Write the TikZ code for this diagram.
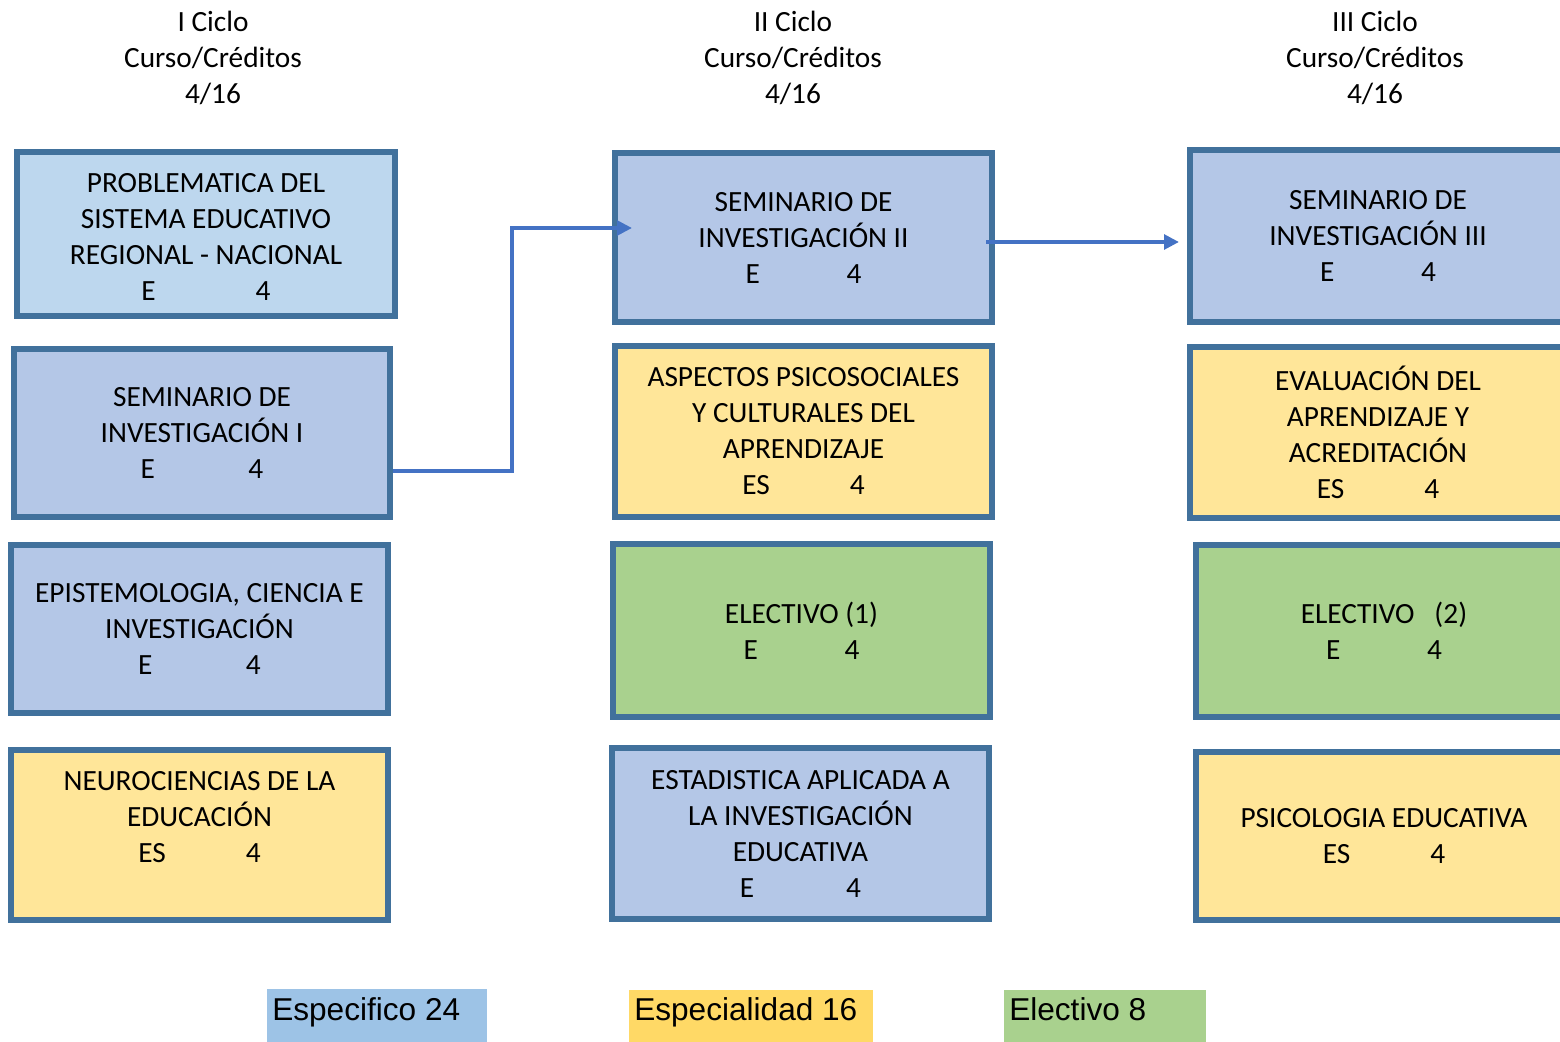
\documentclass[tikz,border=0pt]{standalone}
\usepackage{fontspec}
\setmainfont{Carlito}
\newfontfamily\legfont{Liberation Sans}
\usetikzlibrary{arrows.meta}
\definecolor{bord}{HTML}{41719C}
\definecolor{fillA}{HTML}{BDD7EE}
\definecolor{fillB}{HTML}{B4C7E7}
\definecolor{fillY}{HTML}{FFE699}
\definecolor{fillG}{HTML}{A9D18E}
\definecolor{arr}{HTML}{4472C4}
\definecolor{legB}{HTML}{9DC3E6}
\definecolor{legY}{HTML}{FFD966}
\definecolor{legG}{HTML}{A9D18E}
\newcommand\crE[1]{E\hspace{#1pt}4}
\newcommand\crES[1]{ES\hspace{#1pt}4}
\begin{document}
\begin{tikzpicture}[x=0.75pt,y=-0.75pt,
  box/.style={draw=bord, line width=4.5pt, align=center, inner sep=0pt,
    font=\fontsize{22}{27}\selectfont},
  hdr/.style={align=center, inner sep=0pt, font=\fontsize{22}{27}\selectfont},
  conn/.style={draw=arr, line width=3pt, -{Triangle[length=11.25pt,width=11pt]}},
  legbox/.style={inner sep=0pt, anchor=north west},
  legtext/.style={inner sep=0pt, anchor=base west, font=\legfont\fontsize{23.7}{28}\selectfont}]
\useasboundingbox (0,0) rectangle (1560,1042);
\clip (0,0) rectangle (1560,1042);

% headers
\node[hdr] (h1) at (213,58) {I Ciclo\\Curso/Créditos\\4/16};
\node[hdr] (h2) at (793,58) {II Ciclo\\Curso/Créditos\\4/16};
\node[hdr] (h3) at (1375,58) {III Ciclo\\Curso/Créditos\\4/16};

% column 1
\node[box, fill=fillA, minimum width=378*0.75pt, minimum height=164*0.75pt] (A) at (206,234)
  {\mbox{}\\[-8.5pt]PROBLEMATICA DEL\\SISTEMA EDUCATIVO\\REGIONAL - NACIONAL\\\crE{75}};
\node[box, fill=fillB, minimum width=376*0.75pt, minimum height=168*0.75pt] (B) at (202,433)
  {SEMINARIO DE\\INVESTIGACIÓN I\\\crE{70}};
\node[box, fill=fillB, minimum width=377*0.75pt, minimum height=168*0.75pt] (C) at (199.5,629)
  {EPISTEMOLOGIA, CIENCIA E\\INVESTIGACIÓN\\\crE{70}};
\node[box, fill=fillY, minimum width=377*0.75pt, minimum height=170*0.75pt] (D) at (199.5,835)
  {NEUROCIENCIAS DE LA\\EDUCACIÓN\\\crES{60}\\\mbox{}};

% column 2
\node[box, fill=fillB, minimum width=377*0.75pt, minimum height=169*0.75pt] (E) at (803.5,237.5)
  {SEMINARIO DE\\INVESTIGACIÓN II\\\crE{65}};
\node[box, fill=fillY, minimum width=377*0.75pt, minimum height=171*0.75pt] (F) at (803.5,431.5)
  {ASPECTOS PSICOSOCIALES\\Y CULTURALES DEL\\APRENDIZAJE\\\crES{60}};
\node[box, fill=fillG, minimum width=377*0.75pt, minimum height=173*0.75pt] (G) at (801.5,630.5)
  {ELECTIVO (1)\\\crE{65}};
\node[box, fill=fillB, minimum width=377*0.75pt, minimum height=171*0.75pt] (H) at (800.5,833.5)
  {ESTADISTICA APLICADA A\\LA INVESTIGACIÓN\\EDUCATIVA\\\crE{69}};

% column 3
\node[box, fill=fillB, minimum width=376*0.75pt, minimum height=172*0.75pt] (I) at (1378,236)
  {SEMINARIO DE\\INVESTIGACIÓN III\\\crE{65}};
\node[box, fill=fillY, minimum width=376*0.75pt, minimum height=171*0.75pt] (J) at (1378,432.5)
  {EVALUACIÓN DEL\\APRENDIZAJE Y\\ACREDITACIÓN\\\crES{60}};
\node[box, fill=fillG, minimum width=376*0.75pt, minimum height=172*0.75pt] (K) at (1384,631)
  {ELECTIVO\hspace{15pt}(2)\\\crE{65}};
\node[box, fill=fillY, minimum width=376*0.75pt, minimum height=168*0.75pt] (L) at (1384,836)
  {PSICOLOGIA EDUCATIVA\hspace{6pt}\\\crES{60}\hspace{6pt}};

% connectors
\coordinate (b1) at ([yshift=-28.5pt]B.east);
\coordinate (k1) at (512,228);
\coordinate (e1) at ([xshift=15pt,yshift=7.125pt]E.west);
\draw[conn] (b1) -| (k1) -- (e1);
\coordinate (e2) at ([xshift=-6.75pt,yshift=-3.375pt]E.east);
\coordinate (i1) at ([xshift=-6pt,yshift=-4.5pt]I.west);
\draw[conn] (e2) -- (i1);

% legend
\node[legbox, fill=legB, minimum width=220*0.75pt, minimum height=53*0.75pt] (l1) at (267,989) {};
\node[legtext] (t1) at (272,1020) {Especifico 24};
\node[legbox, fill=legY, minimum width=244*0.75pt, minimum height=52*0.75pt] (l2) at (629,990) {};
\node[legtext] (t2) at (634,1020) {Especialidad 16};
\node[legbox, fill=legG, minimum width=202*0.75pt, minimum height=52*0.75pt] (l3) at (1004,990) {};
\node[legtext] (t3) at (1009,1020) {Electivo 8};
\end{tikzpicture}
\end{document}
